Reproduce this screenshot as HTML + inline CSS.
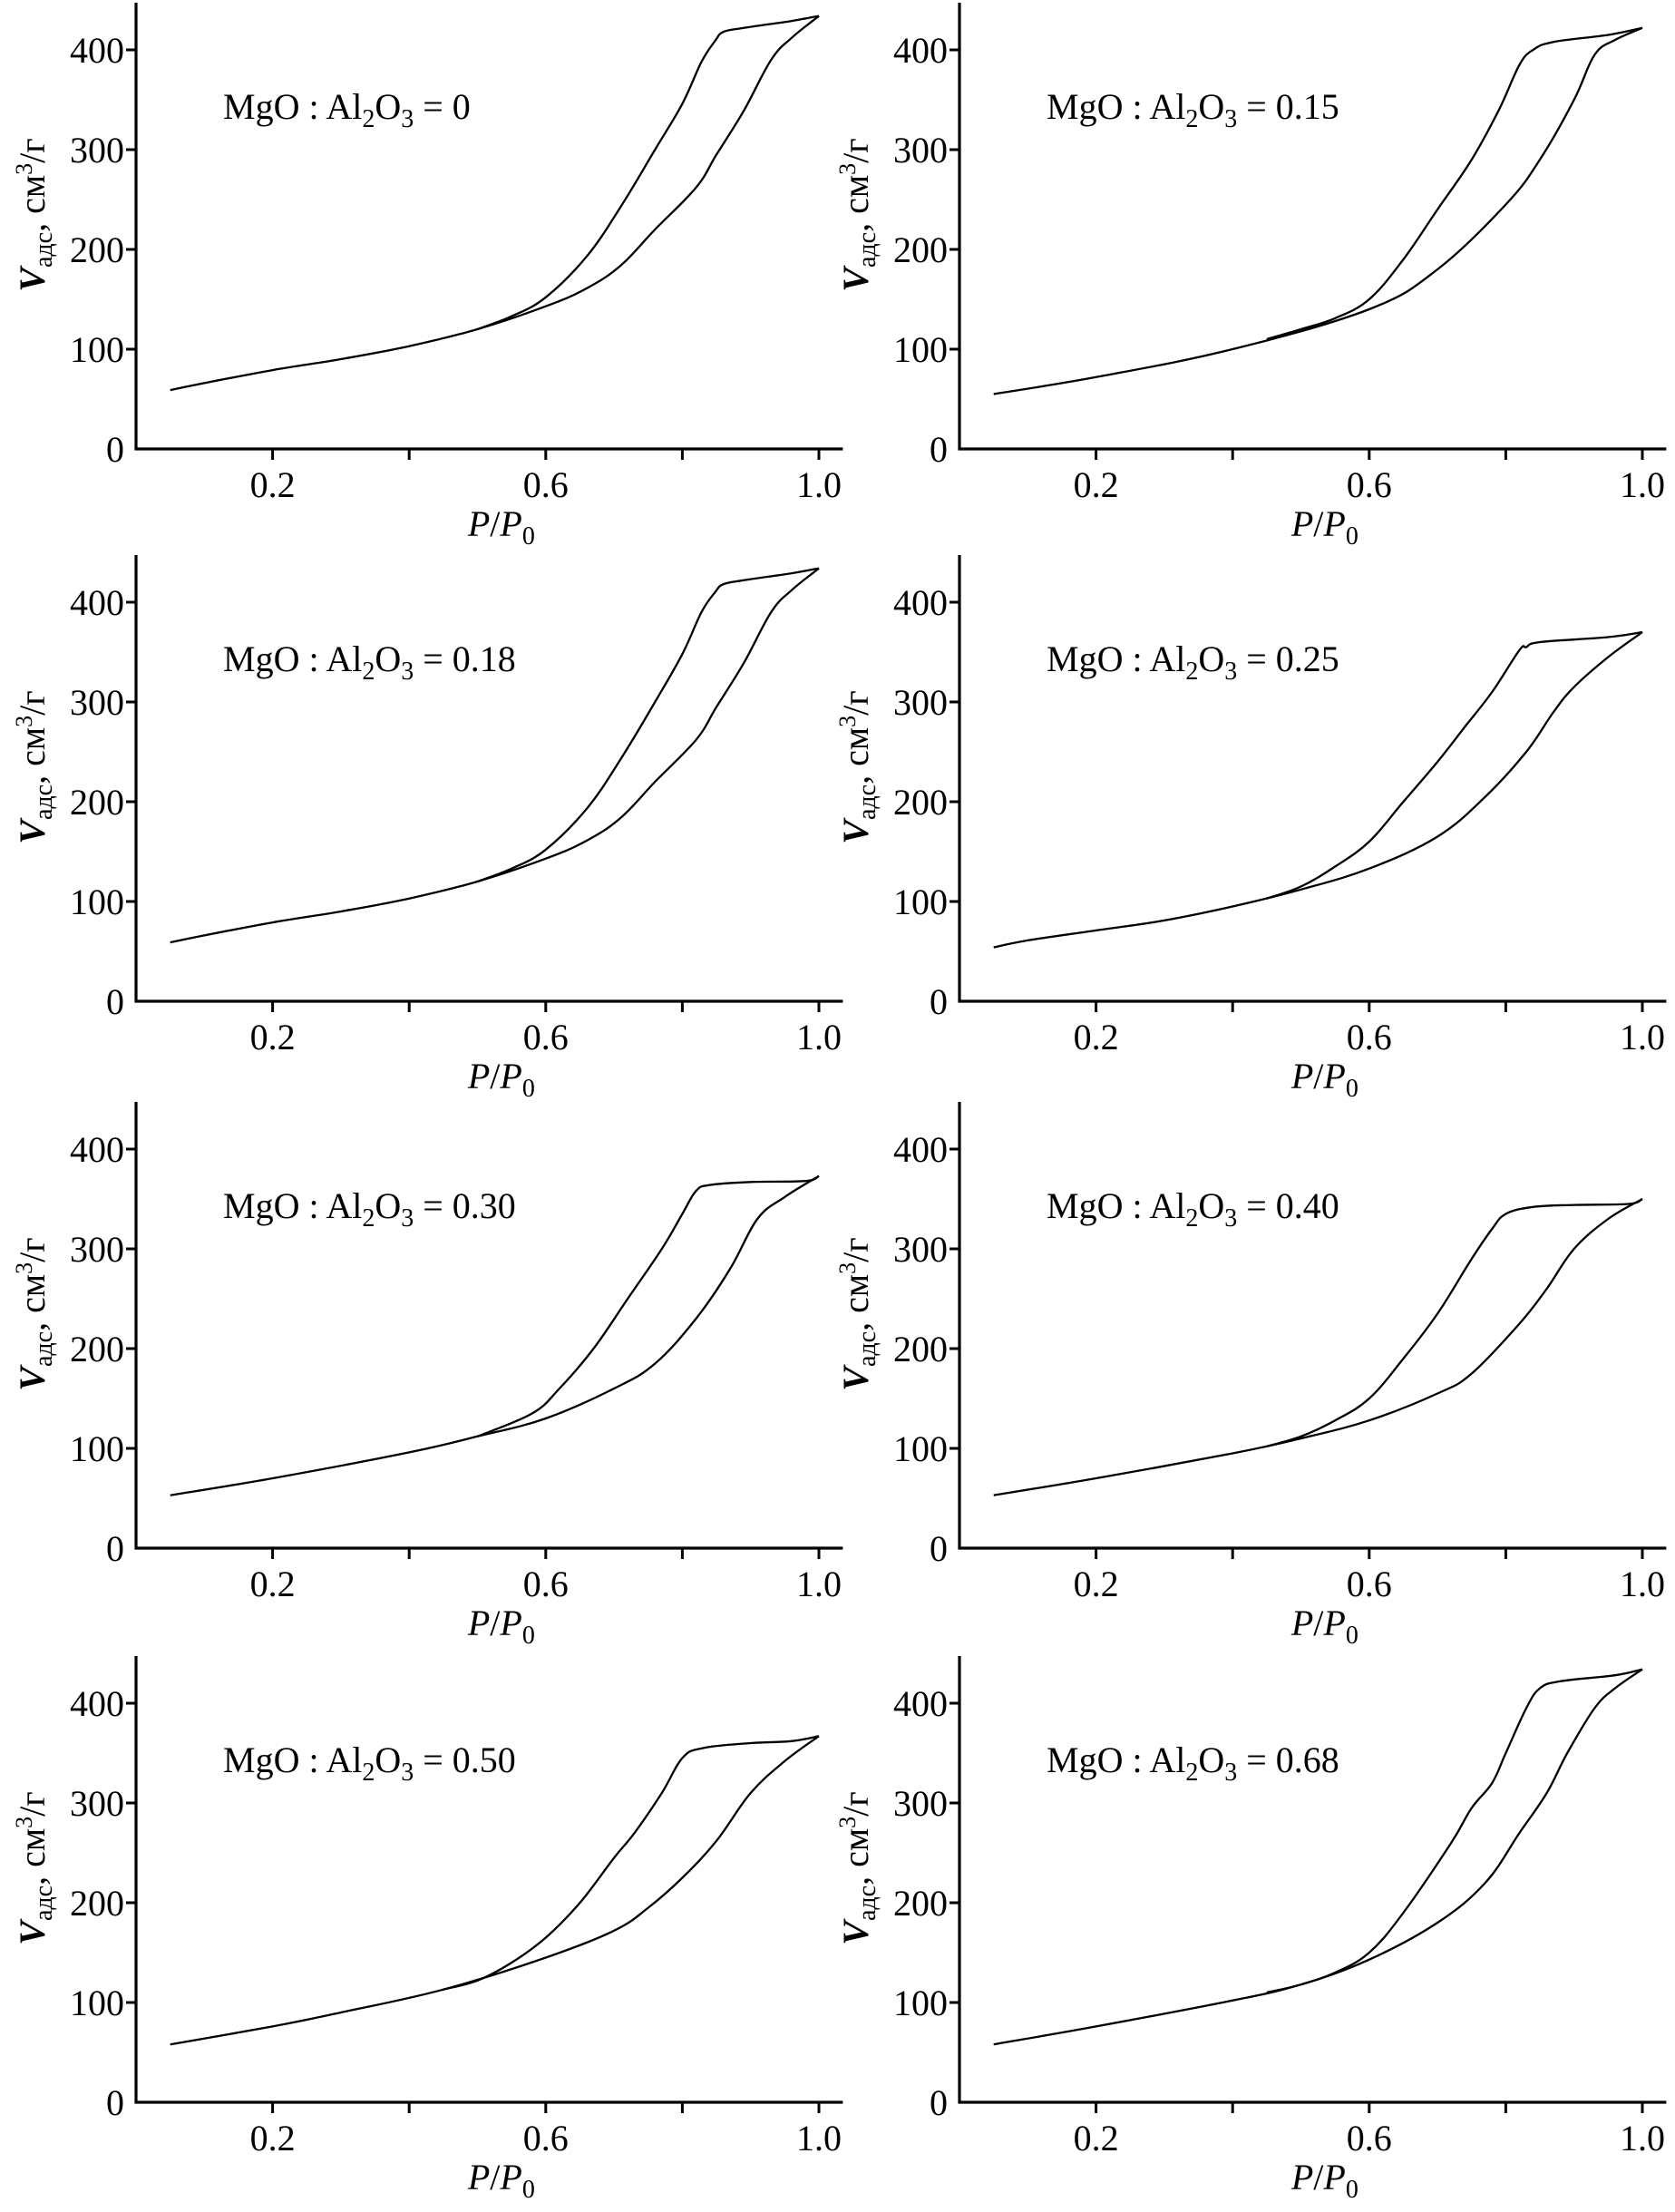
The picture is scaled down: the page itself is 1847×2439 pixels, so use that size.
<!DOCTYPE html>
<html><head><meta charset="utf-8">
<style>
html,body{margin:0;padding:0;background:#fff;}
svg{display:block;}
text{font-family:"Liberation Serif",serif;fill:#000;}
</style></head>
<body>
<svg id="fig" width="1847" height="2439" viewBox="0 0 1847 2439" xmlns="http://www.w3.org/2000/svg"></svg>
<script>
// ---- data (P/P0, V cm3/g) ----
const xTicks = [0.2, 0.4, 0.6, 0.8, 1.0];
const xTickLabels = ["0.2", "", "0.6", "", "1.0"];
const yTicks = [0, 100, 200, 300, 400];
const yTickLabels = ["0", "100", "200", "300", "400"];
const ratios = ["0", "0.15", "0.18", "0.25", "0.30", "0.40", "0.50", "0.68"];

const adsP1 = [0.05,0.1,0.2,0.3,0.4,0.5,0.6,0.66,0.71,0.76,0.82,0.85,0.89,0.93,0.96,1.0];
const adsV1 = [59,66,79,90,103,120,143,161,184,220,262,295,339,390,412,434];
const desP1 = [1.0,0.96,0.89,0.86,0.848,0.828,0.80,0.76,0.71,0.66,0.6,0.55,0.5];
const desV1 = [434,429,422,418,409,388,346,300,243,193,152,133,120];

const adsP2 = [0.05,0.2,0.4,0.6,0.7,0.8,0.85,0.9,0.93,0.96,1.0];
const adsV2 = [55,72,100,140,180,245,290,350,395,410,422];
const desP2 = [1.0,0.95,0.87,0.84,0.82,0.79,0.75,0.7,0.65,0.6,0.55,0.5,0.45];
const desV2 = [422,415,408,400,385,340,290,240,190,150,131,120,110];

const adsP3 = [0.05,0.1,0.2,0.3,0.4,0.5,0.6,0.66,0.71,0.76,0.82,0.85,0.89,0.93,0.96,1.0];
const adsV3 = [59,66,79,90,103,120,143,161,184,220,262,295,339,390,412,434];
const desP3 = [1.0,0.96,0.89,0.86,0.848,0.828,0.80,0.76,0.71,0.66,0.6,0.55,0.5];
const desV3 = [434,429,422,418,410,390,348,300,243,193,152,133,120];

const adsP4 = [0.05,0.1,0.2,0.3,0.4,0.5,0.6,0.7,0.77,0.83,0.87,0.9,0.95,1.0];
const adsV4 = [54,61,71,81,95,112,133,165,205,250,290,315,345,370];
const desP4 = [1.0,0.95,0.85,0.83,0.82,0.78,0.74,0.7,0.65,0.6,0.55,0.5,0.45];
const desV4 = [370,365,360,355,352,310,275,240,200,160,135,115,103];

const adsP5 = [0.05,0.2,0.4,0.5,0.6,0.7,0.76,0.82,0.87,0.91,0.95,1.0];
const adsV5 = [53,70,96,112,130,160,185,230,280,330,352,373];
const desP5 = [1.0,0.98,0.9,0.84,0.82,0.8,0.77,0.72,0.67,0.62,0.58,0.5];
const desV5 = [373,368,367,364,358,335,300,250,200,160,135,112];

const adsP6 = [0.05,0.2,0.4,0.5,0.6,0.7,0.75,0.82,0.86,0.9,0.95,1.0];
const adsV6 = [53,70,95,110,128,155,175,225,260,300,330,350];
const desP6 = [1.0,0.98,0.9,0.84,0.8,0.78,0.75,0.7,0.65,0.6,0.55,0.5,0.45];
const desV6 = [350,345,344,342,335,320,290,235,190,150,128,112,102];

const adsP7 = [0.05,0.2,0.3,0.45,0.6,0.7,0.75,0.8,0.85,0.9,0.95,1.0];
const adsV7 = [58,76,90,113,145,172,195,225,262,310,342,367];
const desP7 = [1.0,0.96,0.9,0.83,0.8,0.77,0.73,0.7,0.65,0.6,0.55,0.5,0.45];
const desV7 = [367,362,360,355,345,310,270,245,200,165,140,122,113];

const adsP8 = [0.05,0.2,0.4,0.5,0.6,0.7,0.77,0.82,0.86,0.89,0.93,0.96,1.0];
const adsV8 = [58,76,102,118,143,180,220,270,310,350,395,415,434];
const desP8 = [1.0,0.96,0.88,0.85,0.83,0.8,0.78,0.75,0.72,0.65,0.6,0.55,0.5,0.45];
const desV8 = [434,428,422,415,395,350,320,295,260,190,150,130,118,110];

const adsP = [adsP1,adsP2,adsP3,adsP4,adsP5,adsP6,adsP7,adsP8];
const adsV = [adsV1,adsV2,adsV3,adsV4,adsV5,adsV6,adsV7,adsV8];
const desP = [desP1,desP2,desP3,desP4,desP5,desP6,desP7,desP8];
const desV = [desV1,desV2,desV3,desV4,desV5,desV6,desV7,desV8];

// ---- layout ----
const NS = "http://www.w3.org/2000/svg";
const svg = document.getElementById("fig");
const colX0 = [150, 1058];
const rowY0 = [495, 1104, 1707, 2318];
const pxPerUnitX = 753;
const pxPer100 = 110;

function mk(tag, attrs, parent) {
  const e = document.createElementNS(NS, tag);
  for (const k in attrs) e.setAttribute(k, attrs[k]);
  (parent || svg).appendChild(e);
  return e;
}
function smoothPath(pts) {
  let d = `M${pts[0][0].toFixed(1)} ${pts[0][1].toFixed(1)}`;
  const t = 0.18;
  for (let k = 0; k < pts.length - 1; k++) {
    const p0 = pts[Math.max(0, k - 1)], p1 = pts[k], p2 = pts[k + 1], p3 = pts[Math.min(pts.length - 1, k + 2)];
    const c1x = p1[0] + (p2[0] - p0[0]) * t, c1y = p1[1] + (p2[1] - p0[1]) * t;
    const c2x = p2[0] - (p3[0] - p1[0]) * t, c2y = p2[1] - (p3[1] - p1[1]) * t;
    d += ` C${c1x.toFixed(1)} ${c1y.toFixed(1)} ${c2x.toFixed(1)} ${c2y.toFixed(1)} ${p2[0].toFixed(1)} ${p2[1].toFixed(1)}`;
  }
  return d;
}

for (let i = 0; i < 8; i++) {
  const col = i % 2, row = Math.floor(i / 2);
  const x0 = colX0[col], y0 = rowY0[row];
  const sx = p => x0 + p * pxPerUnitX;
  const sy = v => y0 - v * pxPer100 / 100;
  const g = mk("g", {});
  
  

  const ax = mk("path", {d: `M${x0} ${y0 - 492} V${y0} H${sx(1.035)}`, fill: "none", stroke: "#000", "stroke-width": 3.2}, g);
  
  

  yTicks.forEach((v, k) => {
    if (v > 0) {
      const t = mk("line", {x1: x0 - 11, x2: x0, y1: sy(v), y2: sy(v), stroke: "#000", "stroke-width": 3}, g);
      
      
    }
    const lb = mk("text", {x: x0 - 13, y: sy(v) + 14, "font-size": 40, "text-anchor": "end"}, g);
    lb.textContent = yTickLabels[k];
    
    
  });
  xTicks.forEach((p, k) => {
    const t = mk("line", {x1: sx(p), x2: sx(p), y1: y0, y2: y0 + 12, stroke: "#000", "stroke-width": 3}, g);
    
    
    if (xTickLabels[k]) {
      const lb = mk("text", {x: sx(p), y: y0 + 53, "font-size": 40, "text-anchor": "middle"}, g);
      lb.textContent = xTickLabels[k];
      
      
    }
  });

  const xt = mk("text", {x: sx(0.535), y: y0 + 96, "font-size": 40, "text-anchor": "middle"}, g);
  xt.innerHTML = '<tspan font-style="italic">P</tspan>/<tspan font-style="italic">P</tspan><tspan font-size="28" dy="9">0</tspan>';
  
  

  const yc = y0 - 258;
  const yt = mk("text", {x: 0, y: 0, "font-size": 40, "text-anchor": "middle", transform: `translate(${x0 - 101},${yc}) rotate(-90)`}, g);
  yt.innerHTML = '<tspan font-style="italic" font-weight="bold">V</tspan><tspan font-size="28" dy="8">адс</tspan><tspan dy="-8">, см</tspan><tspan font-size="26" dy="-14">3</tspan><tspan dy="14">/г</tspan>';
  
  

  const an = mk("text", {x: x0 + 96, y: y0 - 364, "font-size": 40}, g);
  an.innerHTML = 'MgO : Al<tspan font-size="28" dy="9">2</tspan><tspan dy="-9">O</tspan><tspan font-size="28" dy="9">3</tspan><tspan dy="-9"> = ' + ratios[i] + '</tspan>';
  
  

  const aPts = adsP[i].map((p, k) => [sx(p), sy(adsV[i][k])]);
  const a = mk("path", {d: smoothPath(aPts), fill: "none", stroke: "#000", "stroke-width": 2.3, "stroke-linejoin": "round"}, g);
  
  
  const dPts = desP[i].map((p, k) => [sx(p), sy(desV[i][k])]);
  const d = mk("path", {d: smoothPath(dPts), fill: "none", stroke: "#000", "stroke-width": 2.3, "stroke-linejoin": "round"}, g);
  
  
}
</script>
</body></html>
